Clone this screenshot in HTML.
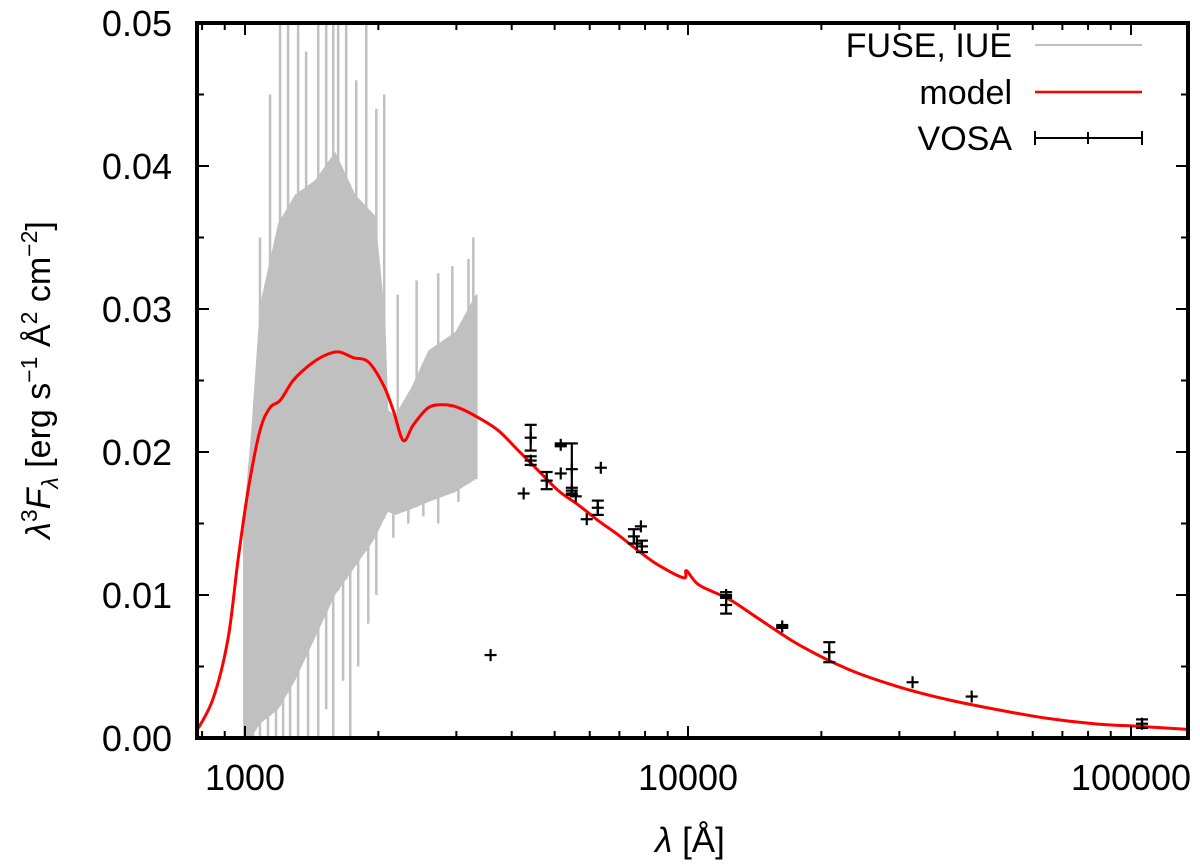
<!DOCTYPE html>
<html><head><meta charset="utf-8"><style>
body{margin:0;background:#fff}
svg{display:block;font-family:"Liberation Sans",sans-serif}
</style></head><body>
<svg id="chart" width="1200" height="866" viewBox="0 0 1200 866">
<g id="gSpec"></g>
<g id="gModel"></g>
<g id="gVosa"></g>
<g id="gAxes"></g>
<g font-size="34">
<text x="1012" y="57" text-anchor="end">FUSE, IUE</text>
<line x1="1035" y1="45" x2="1142" y2="45" stroke="#c0c0c0" stroke-width="2"/>
<text x="1012" y="104" text-anchor="end">model</text>
<line x1="1035" y1="92" x2="1142" y2="92" stroke="#f00" stroke-width="2.5"/>
<text x="1012" y="150" text-anchor="end">VOSA</text>
<g stroke="#000" stroke-width="2">
<line x1="1035" y1="138" x2="1142" y2="138"/><line x1="1035" y1="131" x2="1035" y2="145"/><line x1="1142" y1="131" x2="1142" y2="145"/><line x1="1088" y1="132" x2="1088" y2="144"/></g>
</g>
<text x="690" y="852" font-size="35" text-anchor="middle"><tspan font-style="italic">λ</tspan> [Å]</text>
<text transform="translate(50,380) rotate(-90)" font-size="34" text-anchor="middle"><tspan font-style="italic">λ</tspan><tspan dy="-13" font-size="23">3</tspan><tspan dy="13" font-style="italic">F</tspan><tspan dy="8" font-size="23" font-style="italic">λ</tspan><tspan dy="-8"> [erg s</tspan><tspan dy="-13" font-size="23">−1</tspan><tspan dy="13"> Å</tspan><tspan dy="-13" font-size="23">2</tspan><tspan dy="13"> cm</tspan><tspan dy="-13" font-size="23">−2</tspan><tspan dy="13">]</tspan></text>
</svg>
<script>
// ---- data ----
const specWave = [990,1032,1081,1188,1297,1439,1598,1774,1969,2073,2106,2185,2373,2594,2985,3316,3350];
const specUpper = [0.0149,0.0213,0.0303,0.036,0.038,0.039,0.041,0.038,0.0365,0.0294,0.0229,0.0226,0.0245,0.0271,0.0284,0.031,0.031];
const specLower = [0.0,0.0,0.001,0.002,0.004,0.007,0.010,0.012,0.014,0.0155,0.0158,0.0156,0.016,0.0165,0.0172,0.0181,0.0181];
const spikeUpWave = [1081,1139,1200,1251,1318,1374,1463,1525,1582,1623,1692,1783,1878,1979,2062,2212,2440,2730,2938,3195,3276];
const spikeUpVal = [0.035,0.045,0.05,0.05,0.05,0.048,0.05,0.05,0.05,0.05,0.05,0.046,0.05,0.044,0.045,0.031,0.032,0.0325,0.033,0.0335,0.035];
const spikeDownWave = [1016,1043,1081,1127,1175,1219,1264,1318,1388,1463,1525,1582,1665,1728,1801,1898,1979,2162,2337,2527,2730,3032];
const spikeDownVal = [0,0,0,0,0,0,0,0,0,0,0.002,0,0.004,0,0.005,0.008,0.01,0.014,0.015,0.0155,0.015,0.0165];
const modelWave = [771,846,915,964,1016,1081,1139,1200,1284,1388,1501,1623,1755,1898,2052,2162,2277,2399,2594,2805,3032,3364,3732,4140,4593,5096,5654,6273,6959,7720,8565,9774,9922,10593,12394,14503,17841,23026,29720,38358,49505,63900,82450,106400,134000];
const modelVal = [0.0003,0.0027,0.0069,0.0124,0.0173,0.0215,0.0231,0.0236,0.025,0.026,0.0267,0.027,0.0266,0.0263,0.0247,0.0229,0.0208,0.0219,0.0231,0.0233,0.0231,0.0224,0.0215,0.0201,0.0187,0.0173,0.0163,0.0152,0.0142,0.0131,0.0121,0.0112,0.0117,0.0107,0.0097,0.0083,0.0065,0.0048,0.0036,0.0027,0.002,0.0014,0.001,0.0008,0.0006];
const vosaWave = [4415,4415,4797,5161,5161,5467,5467,5579,6356,4256,5908,6257,7548,7829,7870,7667,12190,12190,16320,3584,20840,32130,43690,105900];
const vosaVal = [0.021,0.0194,0.018,0.0205,0.0185,0.0188,0.0173,0.0169,0.0189,0.0171,0.0153,0.0161,0.0141,0.0148,0.0134,0.0136,0.01,0.0093,0.0078,0.0058,0.006,0.0039,0.0029,0.001];
const vosaErr = [0.0009,0.0003,0.0006,0.0001,0,0.0018,0.0002,0,0,0,0,0.0005,0.0005,0,0.0004,0,0.0002,0.0006,0.0001,0,0.0007,0,0,0.0003];
const xTickVals = [1000,10000,100000];
const xTickLabels = ["1000","10000","100000"];
const yTickVals = [0,0.01,0.02,0.03,0.04,0.05];
const yTickLabels = ["0.00","0.01","0.02","0.03","0.04","0.05"];

// ---- axes ----
const L=197,R=1188,T=23,B=738;
const xs=w=>245+443*(Math.log10(w)-3);
const ys=v=>B-(v/0.05)*(B-T);
const NS="http://www.w3.org/2000/svg";
function mk(tag,parent,attrs){const e=document.createElementNS(NS,tag);for(const k in attrs)e.setAttribute(k,attrs[k]);parent.appendChild(e);return e;}
function interp(arr,w){const lw=Math.log10(w);
 if(w<=specWave[0])return arr[0];
 for(let i=1;i<specWave.length;i++){if(specWave[i]>=w){const a=Math.log10(specWave[i-1]),b=Math.log10(specWave[i]);const t=(lw-a)/(b-a);return arr[i-1]+t*(arr[i]-arr[i-1]);}}
 return arr[arr.length-1];}
const clip=mk('clipPath',document.getElementById('chart'),{id:'pc'});
mk('rect',clip,{x:L,y:T,width:R-L,height:B-T});

// spectrum
const gS=document.getElementById('gSpec');gS.setAttribute('clip-path','url(#pc)');
let pts=specWave.map((w,i)=>xs(w)+','+ys(specUpper[i]));
for(let i=specWave.length-1;i>=0;i--)pts.push(xs(specWave[i])+','+ys(specLower[i]));
const band=mk('polygon',gS,{points:pts.join(' '),fill:'#c0c0c0'});


spikeUpWave.forEach((w,i)=>{
 const l=mk('line',gS,{x1:xs(w),x2:xs(w),y1:ys(interp(specLower,w)),y2:ys(spikeUpVal[i]),stroke:'#c0c0c0','stroke-width':2.5});
 
 
});
spikeDownWave.forEach((w,i)=>{
 const l=mk('line',gS,{x1:xs(w),x2:xs(w),y1:ys(interp(specUpper,w)*0.8),y2:ys(spikeDownVal[i]),stroke:'#c0c0c0','stroke-width':2.5});
 
 
});

// model (smoothed Catmull-Rom through data points)
const gM=document.getElementById('gModel');gM.setAttribute('clip-path','url(#pc)');
const P=modelWave.map((w,i)=>[xs(w),ys(modelVal[i])]);
let d='M'+P[0][0]+','+P[0][1];
for(let i=0;i<P.length-1;i++){const p0=P[Math.max(i-1,0)],p1=P[i],p2=P[i+1],p3=P[Math.min(i+2,P.length-1)];
 const c1=[p1[0]+(p2[0]-p0[0])/6,p1[1]+(p2[1]-p0[1])/6],c2=[p2[0]-(p3[0]-p1[0])/6,p2[1]-(p3[1]-p1[1])/6];
 d+=' C'+c1[0]+','+c1[1]+' '+c2[0]+','+c2[1]+' '+p2[0]+','+p2[1];}
const mp=mk('path',gM,{d:d,fill:'none',stroke:'#f00','stroke-width':3,'stroke-linejoin':'round'});



// vosa
const gV=document.getElementById('gVosa');
vosaWave.forEach((w,i)=>{
 const g=mk('g',gV,{stroke:'#000','stroke-width':2.2});
 
 
 const x=xs(w),y=ys(vosaVal[i]);
 mk('line',g,{x1:x-6,x2:x+6,y1:y,y2:y});
 mk('line',g,{x1:x,x2:x,y1:y-6,y2:y+6});
 if(vosaErr[i]>0){const y1=ys(vosaVal[i]+vosaErr[i]),y2=ys(vosaVal[i]-vosaErr[i]);
  mk('line',g,{x1:x,x2:x,y1:y1,y2:y2});mk('line',g,{x1:x-6,x2:x+6,y1:y1,y2:y1});mk('line',g,{x1:x-6,x2:x+6,y1:y2,y2:y2});}
});

// axes frame and ticks
const gA=document.getElementById('gAxes');
const fr=mk('rect',gA,{x:L,y:T,width:R-L,height:B-T,fill:'none',stroke:'#000','stroke-width':4});


for(let dd=100;dd<=100000;dd*=10){for(let m=1;m<10;m++){const w=dd*m;const x=xs(w);if(x<L||x>R)continue;
 const len=(m===1)?12:7;mk('line',gA,{x1:x,x2:x,y1:B,y2:B-len,stroke:'#000','stroke-width':2});mk('line',gA,{x1:x,x2:x,y1:T,y2:T+len,stroke:'#000','stroke-width':2});}}
xTickVals.forEach((v,i)=>{const t=mk('text',gA,{x:xs(v),y:790,'font-size':36,'text-anchor':'middle'});t.textContent=xTickLabels[i];
 
 });
for(let k=0;k<=10;k++){const v=k*0.005,y=ys(v),len=(k%2===0)?12:7;
 mk('line',gA,{x1:L,x2:L+len,y1:y,y2:y,stroke:'#000','stroke-width':2});mk('line',gA,{x1:R,x2:R-len,y1:y,y2:y,stroke:'#000','stroke-width':2});}
yTickVals.forEach((v,i)=>{const t=mk('text',gA,{x:172,y:ys(v)+13,'font-size':36,'text-anchor':'end'});t.textContent=yTickLabels[i];
 
 });
</script>
</body></html>
